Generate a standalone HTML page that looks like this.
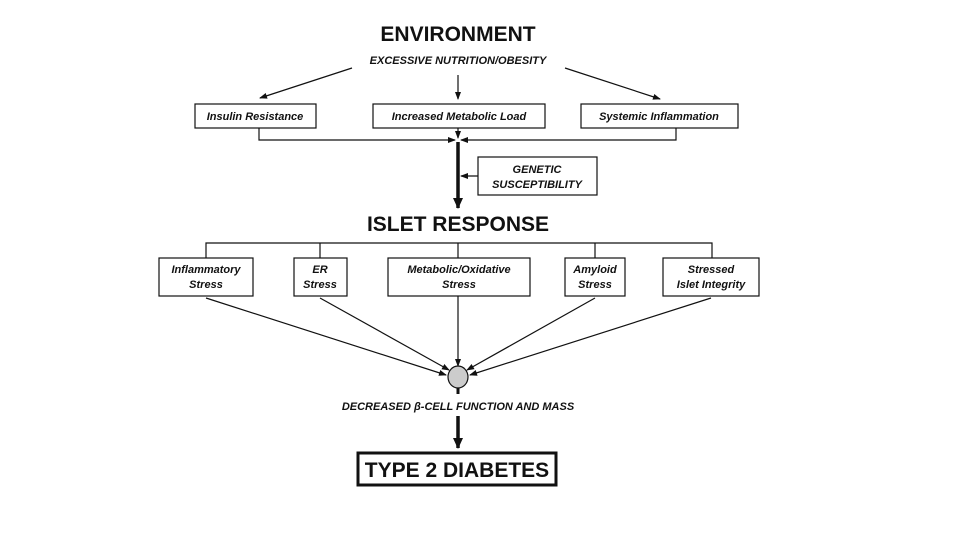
<!DOCTYPE html>
<html><head><meta charset="utf-8"><style>
body{margin:0;background:#fff;}
svg text{font-family:"Liberation Sans",Arial,sans-serif;fill:#111;}
</style></head><body>
<svg width="960" height="540" viewBox="0 0 960 540" xmlns="http://www.w3.org/2000/svg">
<defs>
<marker id="a" markerWidth="8" markerHeight="8" refX="7" refY="4" orient="auto" markerUnits="userSpaceOnUse"><path d="M0,1 L8,4 L0,7 z" fill="#111"/></marker>
<marker id="b" markerWidth="12" markerHeight="12" refX="10" refY="6" orient="auto" markerUnits="userSpaceOnUse"><path d="M0,1 L11,6 L0,11 z" fill="#111"/></marker>
</defs>
<g stroke="#111" fill="none" stroke-width="1.2">
<text x="458" y="41" text-anchor="middle" font-size="21" font-weight="bold" stroke="none">ENVIRONMENT</text>
<text x="458" y="64" text-anchor="middle" font-size="11" font-weight="bold" font-style="italic" stroke="none">EXCESSIVE NUTRITION/OBESITY</text>
<line x1="352" y1="68" x2="260" y2="98" marker-end="url(#a)"/>
<line x1="458" y1="75" x2="458" y2="99" marker-end="url(#a)"/>
<line x1="565" y1="68" x2="660" y2="99" marker-end="url(#a)"/>
<rect x="195" y="104" width="121" height="24"/>
<rect x="373" y="104" width="172" height="24"/>
<rect x="581" y="104" width="157" height="24"/>
<text x="255" y="120" text-anchor="middle" font-size="11" font-weight="bold" font-style="italic" stroke="none">Insulin Resistance</text>
<text x="459" y="120" text-anchor="middle" font-size="11" font-weight="bold" font-style="italic" stroke="none">Increased Metabolic Load</text>
<text x="659" y="120" text-anchor="middle" font-size="11" font-weight="bold" font-style="italic" stroke="none">Systemic Inflammation</text>
<polyline points="259,128 259,140 455,140" marker-end="url(#a)"/>
<polyline points="676,128 676,140 461,140" marker-end="url(#a)"/>
<line x1="458" y1="128" x2="458" y2="138" marker-end="url(#a)"/>
<line x1="458" y1="142" x2="458" y2="208" stroke-width="3.5" marker-end="url(#b)"/>
<rect x="478" y="157" width="119" height="38"/>
<text x="537" y="173" text-anchor="middle" font-size="11" font-weight="bold" font-style="italic" stroke="none">GENETIC</text>
<text x="537" y="188" text-anchor="middle" font-size="11" font-weight="bold" font-style="italic" stroke="none">SUSCEPTIBILITY</text>
<line x1="478" y1="176" x2="461" y2="176" marker-end="url(#a)"/>
<text x="458" y="231" text-anchor="middle" font-size="21" font-weight="bold" stroke="none">ISLET RESPONSE</text>
<polyline points="206,258 206,243 712,243 712,258"/>
<line x1="320" y1="243" x2="320" y2="258"/>
<line x1="458" y1="243" x2="458" y2="258"/>
<line x1="595" y1="243" x2="595" y2="258"/>
<rect x="159" y="258" width="94" height="38"/>
<rect x="294" y="258" width="53" height="38"/>
<rect x="388" y="258" width="142" height="38"/>
<rect x="565" y="258" width="60" height="38"/>
<rect x="663" y="258" width="96" height="38"/>
<g font-size="11" font-weight="bold" font-style="italic" text-anchor="middle" stroke="none">
<text x="206" y="273">Inflammatory</text><text x="206" y="288">Stress</text>
<text x="320" y="273">ER</text><text x="320" y="288">Stress</text>
<text x="459" y="273">Metabolic/Oxidative</text><text x="459" y="288">Stress</text>
<text x="595" y="273">Amyloid</text><text x="595" y="288">Stress</text>
<text x="711" y="273">Stressed</text><text x="711" y="288">Islet Integrity</text>
</g>
<line x1="206" y1="298" x2="446" y2="375" marker-end="url(#a)"/>
<line x1="320" y1="298" x2="449" y2="370" marker-end="url(#a)"/>
<line x1="458" y1="296" x2="458" y2="366" marker-end="url(#a)"/>
<line x1="595" y1="298" x2="467" y2="370" marker-end="url(#a)"/>
<line x1="711" y1="298" x2="470" y2="375" marker-end="url(#a)"/>
<ellipse cx="458" cy="377" rx="10" ry="11" fill="#ccc"/>
<line x1="458" y1="388" x2="458" y2="394" stroke-width="3"/>
<text x="458" y="410" text-anchor="middle" font-size="11" font-weight="bold" font-style="italic" stroke="none">DECREASED β-CELL FUNCTION AND MASS</text>
<line x1="458" y1="416" x2="458" y2="448" stroke-width="3.5" marker-end="url(#b)"/>
<rect x="358" y="453" width="198" height="32" stroke-width="3"/>
<text x="457" y="477" text-anchor="middle" font-size="21" font-weight="bold" stroke="none">TYPE 2 DIABETES</text>
</g>
</svg>
</body></html>
